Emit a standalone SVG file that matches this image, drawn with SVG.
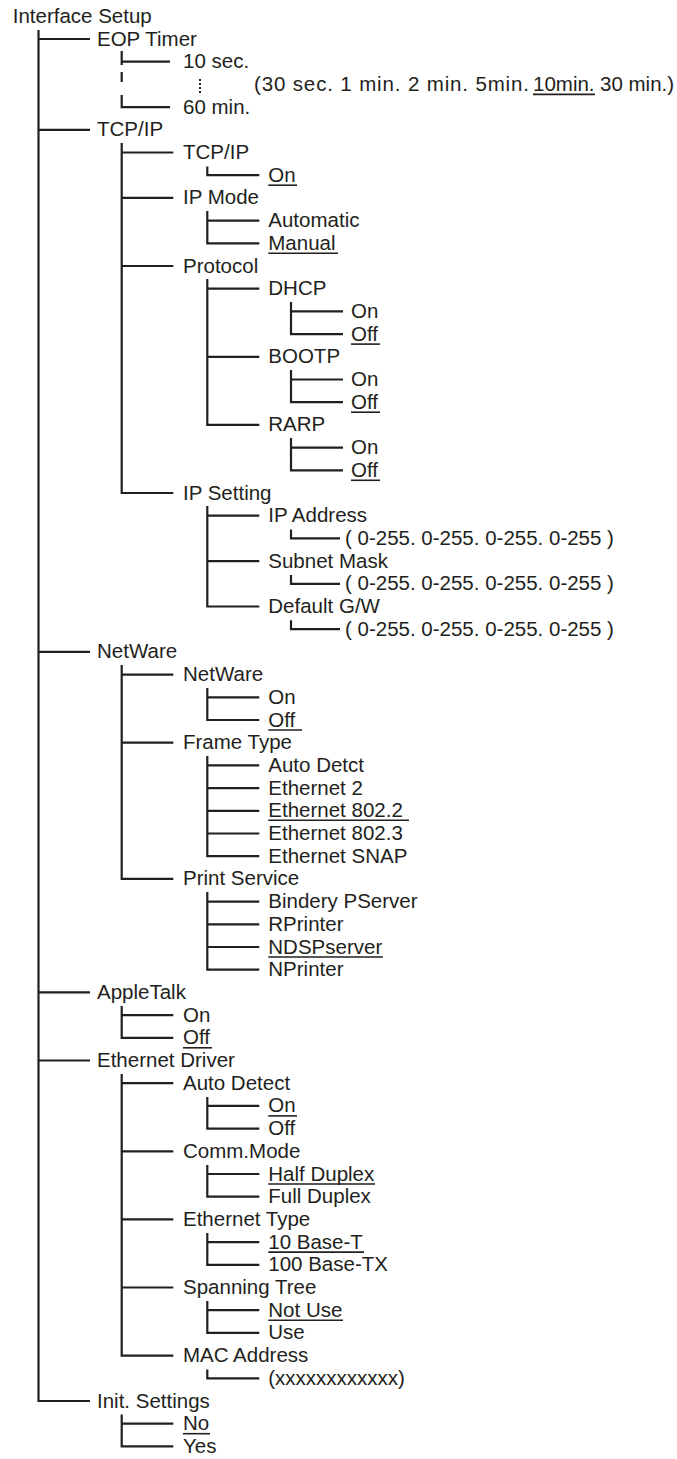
<svg xmlns="http://www.w3.org/2000/svg" width="677" height="1459" viewBox="0 0 677 1459">
<style>
.t{font-family:"Liberation Sans",Arial,Helvetica,sans-serif;font-size:20.5px;fill:#231f20}
.c{stroke:#231f20;stroke-width:2.2;fill:none;stroke-linejoin:miter}
.u{stroke:#231f20;stroke-width:1.6}
</style>
<rect width="677" height="1459" fill="#fff"/>
<g id="connectors" class="c">
<path d="M38.5 30 V1401 H90 M38.5 39 H90 M38.5 129.8 H90 M38.5 651.9 H90 M38.5 992.4 H90 M38.5 1060.5 H90"/>
<path d="M121.7 51 V65 M121.7 61.7 H170 M121.7 72 V82 M121.7 95 V107.1 H170"/>
<path d="M200 79 V93" stroke-width="2" stroke-dasharray="2 2"/>
<path d="M121.7 143 V493 H173.3 M121.7 152.5 H173.3 M121.7 197.9 H173.3 M121.7 266 H173.3"/>
<path d="M207.3 166.5 V175.2 H259.3"/>
<path d="M207.3 211 V243.3 H259.3 M207.3 220.6 H259.3"/>
<path d="M207.3 279 V424.9 H259.3 M207.3 288.7 H259.3 M207.3 356.8 H259.3"/>
<path d="M291 302 V334.1 H343 M291 311.4 H343"/>
<path d="M291 370 V402.2 H343 M291 379.5 H343"/>
<path d="M291 438 V470.3 H343 M291 447.6 H343"/>
<path d="M207.3 506 V606.5 H259.3 M207.3 515.7 H259.3 M207.3 561.1 H259.3"/>
<path d="M291 529.5 V538.4 H340 M291 574.9 V583.8 H340 M291 620.3 V629.2 H340"/>
<path d="M121.7 665 V878.9 H173.3 M121.7 674.6 H173.3 M121.7 742.7 H173.3"/>
<path d="M207.3 688 V720 H259.3 M207.3 697.3 H259.3"/>
<path d="M207.3 756 V856.2 H259.3 M207.3 765.4 H259.3 M207.3 788.1 H259.3 M207.3 810.8 H259.3 M207.3 833.5 H259.3"/>
<path d="M207.3 892 V969.7 H259.3 M207.3 901.6 H259.3 M207.3 924.3 H259.3 M207.3 947 H259.3"/>
<path d="M121.7 1006 V1037.8 H173.3 M121.7 1015.1 H173.3"/>
<path d="M121.7 1074 V1355.6 H173.3 M121.7 1083.2 H173.3 M121.7 1151.3 H173.3 M121.7 1219.4 H173.3 M121.7 1287.5 H173.3"/>
<path d="M207.3 1097 V1128.6 H259.3 M207.3 1105.9 H259.3"/>
<path d="M207.3 1165 V1196.7 H259.3 M207.3 1174 H259.3"/>
<path d="M207.3 1233 V1264.8 H259.3 M207.3 1242.1 H259.3"/>
<path d="M207.3 1301 V1332.9 H259.3 M207.3 1310.2 H259.3"/>
<path d="M207.3 1369.5 V1378.3 H259.3"/>
<path d="M121.7 1414.5 V1446.4 H173.3 M121.7 1423.7 H173.3"/>
</g>
<g id="nodes">
<g id="n-interface-setup"><text class="t" x="12.7" y="22.8">Interface Setup</text></g>
<g id="n-eop-timer"><text class="t" x="97" y="45.5">EOP Timer</text></g>
<g id="n-eop-10sec"><text class="t" x="183" y="68.2">10 sec.</text></g>
<g id="n-eop-options"><text class="t" x="254" y="90.9"><tspan textLength="275" lengthAdjust="spacing">(30 sec. 1 min. 2 min. 5min.</tspan><tspan x="533">10min.</tspan><tspan x="600">30 min.)</tspan></text><line class="u" x1="533" y1="94.4" x2="595" y2="94.4"/></g>
<g id="n-eop-60min"><text class="t" x="183" y="113.6">60 min.</text></g>
<g id="n-tcpip"><text class="t" x="97" y="136.3">TCP/IP</text></g>
<g id="n-tcpip-tcpip"><text class="t" x="183" y="159">TCP/IP</text></g>
<g id="n-tcpip-on"><text class="t" x="268.3" y="181.7">On</text><line class="u" x1="268.3" y1="185.2" x2="297" y2="185.2"/></g>
<g id="n-ipmode"><text class="t" x="183" y="204.4">IP Mode</text></g>
<g id="n-ipmode-auto"><text class="t" x="268.3" y="227.1">Automatic</text></g>
<g id="n-ipmode-manual"><text class="t" x="268.3" y="249.8">Manual</text><line class="u" x1="268.3" y1="253.3" x2="338" y2="253.3"/></g>
<g id="n-protocol"><text class="t" x="183" y="272.5">Protocol</text></g>
<g id="n-dhcp"><text class="t" x="268.3" y="295.2">DHCP</text></g>
<g id="n-dhcp-on"><text class="t" x="351" y="317.9">On</text></g>
<g id="n-dhcp-off"><text class="t" x="351" y="340.6">Off</text><line class="u" x1="351" y1="344.1" x2="380" y2="344.1"/></g>
<g id="n-bootp"><text class="t" x="268.3" y="363.3">BOOTP</text></g>
<g id="n-bootp-on"><text class="t" x="351" y="386">On</text></g>
<g id="n-bootp-off"><text class="t" x="351" y="408.7">Off</text><line class="u" x1="351" y1="412.2" x2="380" y2="412.2"/></g>
<g id="n-rarp"><text class="t" x="268.3" y="431.4">RARP</text></g>
<g id="n-rarp-on"><text class="t" x="351" y="454.1">On</text></g>
<g id="n-rarp-off"><text class="t" x="351" y="476.8">Off</text><line class="u" x1="351" y1="480.3" x2="380" y2="480.3"/></g>
<g id="n-ipsetting"><text class="t" x="183" y="499.5">IP Setting</text></g>
<g id="n-ipaddress"><text class="t" x="268.3" y="522.2">IP Address</text></g>
<g id="n-ipaddress-val"><text class="t" x="345" y="544.9">( 0-255. 0-255. 0-255. 0-255 )</text></g>
<g id="n-subnet"><text class="t" x="268.3" y="567.6">Subnet Mask</text></g>
<g id="n-subnet-val"><text class="t" x="345" y="590.3">( 0-255. 0-255. 0-255. 0-255 )</text></g>
<g id="n-gateway"><text class="t" x="268.3" y="613">Default G/W</text></g>
<g id="n-gateway-val"><text class="t" x="345" y="635.7">( 0-255. 0-255. 0-255. 0-255 )</text></g>
<g id="n-netware"><text class="t" x="97" y="658.4">NetWare</text></g>
<g id="n-netware-netware"><text class="t" x="183" y="681.1">NetWare</text></g>
<g id="n-netware-on"><text class="t" x="268.3" y="703.8">On</text></g>
<g id="n-netware-off"><text class="t" x="268.3" y="726.5">Off </text><line class="u" x1="268.3" y1="730" x2="302" y2="730"/></g>
<g id="n-frametype"><text class="t" x="183" y="749.2">Frame Type</text></g>
<g id="n-ft-auto"><text class="t" x="268.3" y="771.9">Auto Detct</text></g>
<g id="n-ft-eth2"><text class="t" x="268.3" y="794.6">Ethernet 2</text></g>
<g id="n-ft-8022"><text class="t" x="268.3" y="817.3">Ethernet 802.2</text><line class="u" x1="268.3" y1="820.3" x2="409" y2="820.3"/></g>
<g id="n-ft-8023"><text class="t" x="268.3" y="840">Ethernet 802.3</text></g>
<g id="n-ft-snap"><text class="t" x="268.3" y="862.7">Ethernet SNAP</text></g>
<g id="n-printservice"><text class="t" x="183" y="885.4">Print Service</text></g>
<g id="n-ps-bindery"><text class="t" x="268.3" y="908.1">Bindery PServer</text></g>
<g id="n-ps-rprinter"><text class="t" x="268.3" y="930.8">RPrinter</text></g>
<g id="n-ps-ndsp"><text class="t" x="268.3" y="953.5">NDSPserver</text><line class="u" x1="268.3" y1="957" x2="383" y2="957"/></g>
<g id="n-ps-nprinter"><text class="t" x="268.3" y="976.2">NPrinter</text></g>
<g id="n-appletalk"><text class="t" x="97" y="998.9">AppleTalk</text></g>
<g id="n-at-on"><text class="t" x="183" y="1021.6">On</text></g>
<g id="n-at-off"><text class="t" x="183" y="1044.3">Off</text><line class="u" x1="183" y1="1047.8" x2="212" y2="1047.8"/></g>
<g id="n-ethdriver"><text class="t" x="97" y="1067">Ethernet Driver</text></g>
<g id="n-autodetect"><text class="t" x="183" y="1089.7">Auto Detect</text></g>
<g id="n-ad-on"><text class="t" x="268.3" y="1112.4">On</text><line class="u" x1="268.3" y1="1115.9" x2="297" y2="1115.9"/></g>
<g id="n-ad-off"><text class="t" x="268.3" y="1135.1">Off</text></g>
<g id="n-commmode"><text class="t" x="183" y="1157.8">Comm.Mode</text></g>
<g id="n-cm-half"><text class="t" x="268.3" y="1180.5">Half Duplex</text><line class="u" x1="268.3" y1="1184" x2="375" y2="1184"/></g>
<g id="n-cm-full"><text class="t" x="268.3" y="1203.2">Full Duplex</text></g>
<g id="n-ethtype"><text class="t" x="183" y="1225.9">Ethernet Type</text></g>
<g id="n-et-10"><text class="t" x="268.3" y="1248.6">10 Base-T</text><line class="u" x1="268.3" y1="1252.1" x2="364" y2="1252.1"/></g>
<g id="n-et-100"><text class="t" x="268.3" y="1271.3">100 Base-TX</text></g>
<g id="n-spanning"><text class="t" x="183" y="1294">Spanning Tree</text></g>
<g id="n-st-notuse"><text class="t" x="268.3" y="1316.7">Not Use</text><line class="u" x1="268.3" y1="1320.2" x2="343" y2="1320.2"/></g>
<g id="n-st-use"><text class="t" x="268.3" y="1339.4">Use</text></g>
<g id="n-mac"><text class="t" x="183" y="1362.1">MAC Address</text></g>
<g id="n-mac-val"><text class="t" x="268.3" y="1384.8">(xxxxxxxxxxxx)</text></g>
<g id="n-init"><text class="t" x="97" y="1407.5">Init. Settings</text></g>
<g id="n-init-no"><text class="t" x="183" y="1430.2">No</text><line class="u" x1="183" y1="1433.7" x2="210" y2="1433.7"/></g>
<g id="n-init-yes"><text class="t" x="183" y="1452.9">Yes</text></g>
</g>
</svg>
